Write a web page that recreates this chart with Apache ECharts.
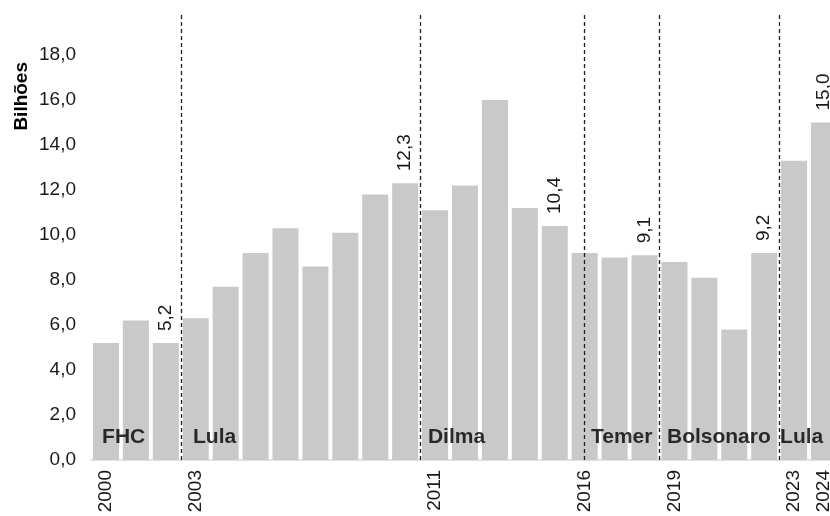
<!DOCTYPE html>
<html>
<head>
<meta charset="utf-8">
<script src="https://cdn.jsdelivr.net/npm/echarts@6/dist/echarts.min.js"></script>
<style>
  html, body { margin: 0; padding: 0; background: #fff; }
  #chart { width: 830px; height: 516px; }
</style>
</head>
<body>
<div id="chart"></div>
<script>
// Annual amounts, in billions
const years = ['2000','2001','2002','2003','2004','2005','2006','2007','2008','2009',
  '2010','2011','2012','2013','2014','2015','2016','2017','2018','2019',
  '2020','2021','2022','2023','2024'];
const values = [5.2, 6.2, 5.2, 6.3, 7.7, 9.2, 10.3, 8.6, 10.1, 11.8,
  12.3, 11.1, 12.2, 16.0, 11.2, 10.4, 9.2, 9.0, 9.1, 8.8,
  8.1, 5.8, 9.2, 13.3, 15.0];
// Years whose bar carries a value label
const labeledYears = ['2002', '2010', '2015', '2018', '2022', '2024'];
// Years shown on the horizontal axis
const tickYears = ['2000', '2003', '2011', '2016', '2019', '2023', '2024'];
// Y axis ticks
const yTicks = [0, 2, 4, 6, 8, 10, 12, 14, 16, 18];
// Government terms: name and start, in category units from the first year
const periodNames = ['FHC', 'Lula', 'Dilma', 'Temer', 'Bolsonaro', 'Lula'];
const periodStarts = [0, 3, 11, 16.5, 19, 23];
// Where each term name is written (category units)
const periodLabelPos = [0.37, 3.41, 11.26, 16.71, 19.25, 23.03];

const FONT = "'Liberation Sans', Arial, sans-serif";
const fmt = v => v.toFixed(1).replace('.', ',');

const chart = echarts.init(document.getElementById('chart'), null, { renderer: 'canvas' });

const barData = values.map((v, i) => ({
  value: v,
  label: { show: labeledYears.includes(years[i]) }
}));

chart.setOption({
  animation: false,
  backgroundColor: '#ffffff',
  textStyle: { fontFamily: FONT },
  // the plot runs a little past the right edge of the canvas
  grid: { left: 91, width: 748, top: 14.5, bottom: 56, outerBoundsMode: 'none', containLabel: false },
  xAxis: [
    {
      type: 'category',
      data: years,
      axisLine: { show: true, lineStyle: { color: '#d9d9d9', width: 1.5 } },
      axisTick: { show: false },
      axisLabel: {
        rotate: 90,
        margin: 10,
        fontSize: 19,
        color: '#1a1a1a',
        fontFamily: FONT,
        hideOverlap: false,
        interval: (idx, val) => tickYears.includes(val)
      },
      splitLine: { show: false }
    },
    {
      type: 'value',
      min: 0,
      max: years.length,
      show: false
    }
  ],
  yAxis: {
    type: 'value',
    min: 0,
    max: 19.8,
    interval: 2,
    axisLine: { show: false },
    axisTick: { show: false },
    splitLine: { show: false },
    axisLabel: {
      showMaxLabel: false,
      margin: 15,
      fontSize: 19,
      color: '#1a1a1a',
      fontFamily: FONT,
      formatter: v => (yTicks.includes(v) ? fmt(v) : '')
    }
  },
  graphic: [
    {
      type: 'text',
      left: 12,
      top: 62,
      rotation: Math.PI / 2,
      style: {
        text: 'Bilhões',
        font: "bold 19px 'Liberation Sans', Arial, sans-serif",
        fill: '#000'
      }
    }
  ],
  series: [
    {
      type: 'bar',
      xAxisIndex: 0,
      data: barData,
      barCategoryGap: '13%',
      itemStyle: { color: '#c9c9c9' },
      label: {
        show: false,
        position: 'top',
        rotate: 90,
        align: 'left',
        verticalAlign: 'middle',
        distance: 12,
        fontSize: 19,
        color: '#1a1a1a',
        fontFamily: FONT,
        formatter: p => fmt(p.value)
      }
    },
    {
      type: 'scatter',
      xAxisIndex: 1,
      symbolSize: 0,
      silent: true,
      data: periodNames.map((n, i) => ({ name: n, value: [periodLabelPos[i], 1.02] })),
      label: {
        show: true,
        position: 'right',
        distance: 0,
        formatter: p => p.name,
        fontSize: 21,
        fontWeight: 'bold',
        color: '#000',
        fontFamily: FONT
      },
      markLine: {
        silent: true,
        symbol: ['none', 'none'],
        label: { show: false },
        lineStyle: { color: '#1e1e1e', width: 1.3, type: [4, 3] },
        data: periodStarts.slice(1).map(x => ({ xAxis: x }))
      }
    }
  ]
});
</script>
</body>
</html>
